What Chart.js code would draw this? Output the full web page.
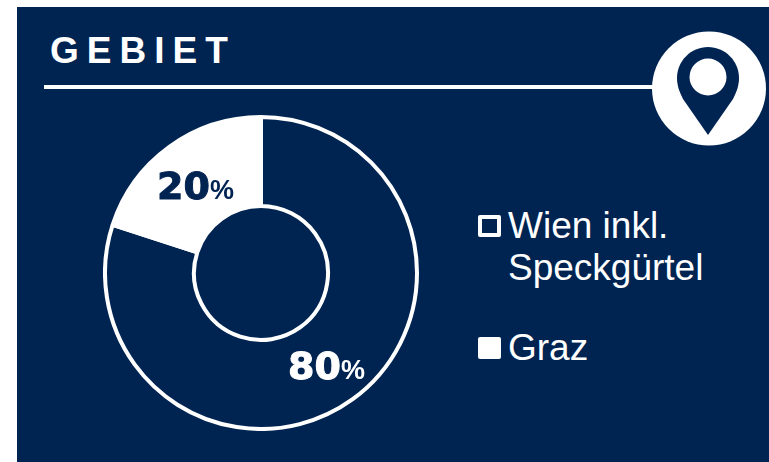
<!DOCTYPE html>
<html>
<head>
<meta charset="utf-8">
<script src="https://cdn.jsdelivr.net/npm/chart.js@4"></script>
<style>
    html, body { margin: 0; padding: 0; background: #fff; }
    body { width: 769px; height: 462px; overflow: hidden; position: relative; font-family: "Liberation Sans", Arial, sans-serif; }
    #panel { position: absolute; left: 17px; top: 7px; right: 0; bottom: 0; background: #002452; }
    #title { position: absolute; left: 50px; top: 31px; color: #fff; font-size: 37px; line-height: 40px; font-weight: bold; letter-spacing: 8px; }
    #rule { position: absolute; left: 44px; top: 85px; width: 612px; height: 4px; background: #fff; }
    #pin { position: absolute; left: 650px; top: 30px; }
    #chartBox { position: absolute; left: 103px; top: 115px; width: 316px; height: 316px; }
    .item { position: absolute; left: 508px; width: 230px; color: #fff; font-size: 37px; line-height: 42px; }
    .swatch { position: absolute; left: -30px; top: 10px; width: 23px; height: 22px; box-sizing: border-box; border: 4px solid #fff; border-radius: 2px; }
</style>
</head>
<body>
<div id="panel"></div>
<div id="title"></div>
<div id="rule"></div>
<svg id="pin" width="118" height="118" viewBox="0 0 118 118">
    <circle cx="59" cy="58.5" r="57" fill="#fff"/>
    <path d="M58 17 C41 17 27 31 27 48 C27 55 29 61 33 69 L58 105 L83 69 C87 61 89 55 89 48 C89 31 75 17 58 17 Z" fill="#002452"/>
    <circle cx="58" cy="47" r="18.5" fill="#fff"/>
</svg>
<div id="chartBox"><canvas id="gebietDonut"></canvas></div>
<div id="legend"></div>

<script>
const titleText = 'GEBIET';
const categories = ['Wien inkl. Speckgürtel', 'Graz'];
const shares = [80, 20];

const navy = '#002452';
const white = '#ffffff';
const sliceColors = [navy, white];
const labelColors = [white, navy];
const legendTops = [205, 327];

document.getElementById('title').textContent = titleText;

/* legend */
categories.forEach(function (name, i) {
    const item = document.createElement('div');
    item.className = 'item';
    item.style.top = legendTops[i] + 'px';
    item.textContent = name;
    const swatch = document.createElement('div');
    swatch.className = 'swatch';
    swatch.style.background = sliceColors[i];
    item.appendChild(swatch);
    document.getElementById('legend').appendChild(item);
});

/* percent labels sit on the slice centres */
const sliceLabels = {
    id: 'sliceLabels',
    afterDatasetsDraw(chart) {
        const ctx = chart.ctx;
        const bigFont = 'bold 38px "DejaVu Sans"';
        const smallFont = 'bold 27px "Liberation Sans"';
        chart.getDatasetMeta(0).data.forEach(function (arc, i) {
            const pos = arc.getCenterPoint();
            const big = String(shares[i]);
            ctx.save();
            ctx.fillStyle = labelColors[i];
            ctx.strokeStyle = labelColors[i];
            ctx.lineWidth = 1;
            ctx.textBaseline = 'alphabetic';
            ctx.textAlign = 'left';
            ctx.font = bigFont;
            const w1 = ctx.measureText(big).width;
            ctx.font = smallFont;
            const w2 = ctx.measureText('%').width;
            const x = pos.x - (w1 + w2) / 2;
            const y = pos.y + 16;
            ctx.font = bigFont;
            ctx.fillText(big, x, y);
            ctx.strokeText(big, x, y);
            ctx.font = smallFont;
            ctx.fillText('%', x + w1, y);
            ctx.restore();
        });
    }
};

new Chart(document.getElementById('gebietDonut'), {
    type: 'doughnut',
    data: {
        labels: categories,
        datasets: [{
            data: shares,
            backgroundColor: sliceColors,
            borderColor: white,
            borderWidth: 4,
            hoverOffset: 0
        }]
    },
    options: {
        responsive: true,
        maintainAspectRatio: false,
        animation: false,
        cutout: 67,
        layout: { padding: 0 },
        plugins: {
            legend: { display: false },
            tooltip: { enabled: false }
        }
    },
    plugins: [sliceLabels]
});
</script>
</body>
</html>
